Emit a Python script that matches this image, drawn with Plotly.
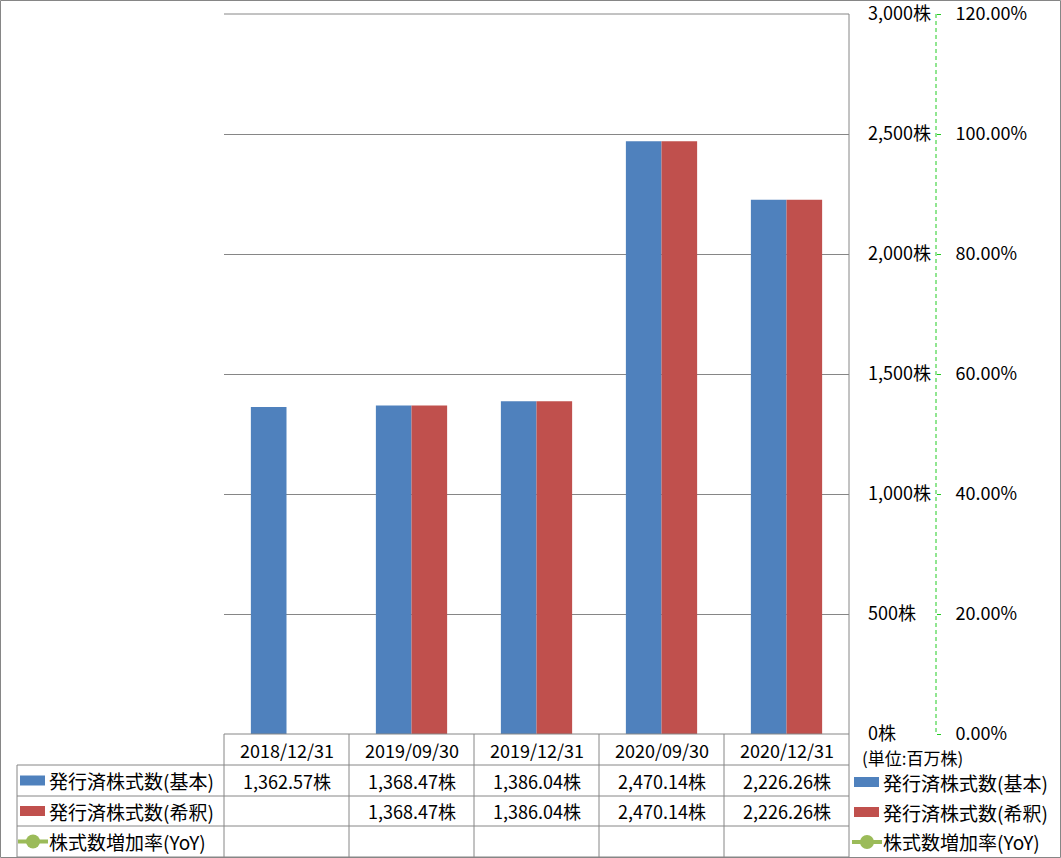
import plotly.graph_objects as go

W, H = 1061, 858

dates = ["2018/12/31", "2019/09/30", "2019/12/31", "2020/09/30", "2020/12/31"]
shares_basic = [1362.57, 1368.47, 1386.04, 2470.14, 2226.26]
shares_diluted = [None, 1368.47, 1386.04, 2470.14, 2226.26]
yoy_rate = [None, None, None, None, None]
share_ticks = [0, 500, 1000, 1500, 2000, 2500, 3000]
rate_ticks = [0, 0.2, 0.4, 0.6, 0.8, 1.0, 1.2]

name_basic = "発行済株式数(基本)"
name_diluted = "発行済株式数(希釈)"
name_yoy = "株式数増加率(YoY)"
unit_label = "(単位:百万株)"

BLUE = "#4F81BD"
RED = "#C0504D"
GREEN = "#9BBB59"
GRID = "#868686"
FONT = "Noto Sans CJK JP"

# plot area in pixels
PL, PR, PT, PB = 224, 849, 14, 734


def px(x):
    return x / W


def py(y):
    return (PB - y) / (PB - PT)


fig = go.Figure()
fig.add_trace(go.Bar(x=dates, y=shares_basic, name=name_basic,
                     marker=dict(color=BLUE, line=dict(width=0))))
fig.add_trace(go.Bar(x=dates, y=shares_diluted, name=name_diluted,
                     marker=dict(color=RED, line=dict(width=0))))
fig.add_trace(
    go.Scatter(
        x=dates, y=yoy_rate, name=name_yoy, yaxis="y2",
        mode="lines+markers", line=dict(color=GREEN, width=3),
        marker=dict(size=10, color=GREEN),
    )
)

shapes = []
line = dict(color=GRID, width=1)


def hline(x0, x1, y):
    shapes.append(dict(type="line", xref="paper", yref="paper",
                       x0=px(x0), x1=px(x1), y0=py(y), y1=py(y), line=line))


def vline(x, y0, y1):
    shapes.append(dict(type="line", xref="paper", yref="paper",
                       x0=px(x), x1=px(x), y0=py(y0), y1=py(y1), line=line))


# outer border
shapes.append(dict(type="rect", xref="paper", yref="paper",
                   x0=px(0.5), x1=px(1060.5), y0=py(0.5), y1=py(857.5), line=line))

# top edge of the plot area
hline(PL, PR, PT)

# data table grid
rows = [734, 765, 796, 826, 857]
hline(PL, PR, rows[0])
for r in rows[1:]:
    hline(17, PR, r)
vline(17, rows[1], rows[-1])
for i in range(len(dates)):
    vline(PL + i * 125, rows[0], rows[-1])
vline(PR, PT, rows[-1])

# secondary axis dashed line
shapes.append(dict(type="line", xref="paper", yref="paper",
                   x0=px(936), x1=px(936), y0=py(PT), y1=py(PB),
                   line=dict(color="#22CC22", width=1, dash="4px,3px")))

annotations = []
tfont = dict(family=FONT, size=18, color="#000000")
lfont = dict(family=FONT, size=19, color="#000000")
row_mid = [(rows[i] + rows[i + 1]) / 2 for i in range(4)]


def label(x, xref, y, text, font, xanchor="center"):
    annotations.append(dict(x=x, xref=xref, y=py(y), yref="paper", text=text,
                            showarrow=False, xanchor=xanchor, yanchor="middle",
                            font=font))


for d in dates:
    label(d, "x", row_mid[0], d, tfont)
for d, v in zip(dates, shares_basic):
    if v is not None:
        label(d, "x", row_mid[1], f"{v:,.2f}株", tfont)
for d, v in zip(dates, shares_diluted):
    if v is not None:
        label(d, "x", row_mid[2], f"{v:,.2f}株", tfont)


def legend_key(x, y, kind, color):
    if kind == "bar":
        shapes.append(dict(type="rect", xref="paper", yref="paper",
                           x0=px(x), x1=px(x + 25), y0=py(y - 5), y1=py(y + 5),
                           fillcolor=color, line=dict(width=0)))
    else:
        shapes.append(dict(type="line", xref="paper", yref="paper",
                           x0=px(x - 2), x1=px(x + 28), y0=py(y), y1=py(y),
                           line=dict(color=color, width=4)))
        shapes.append(dict(type="circle", xref="paper", yref="paper",
                           x0=px(x + 6), x1=px(x + 20), y0=py(y - 7), y1=py(y + 7),
                           fillcolor=color, line=dict(width=0)))


entries = [(name_basic, "bar", BLUE), (name_diluted, "bar", RED), (name_yoy, "line", GREEN)]

# keys in the table's first column
for k, (name, kind, color) in enumerate(entries):
    yc = row_mid[k + 1]
    legend_key(20, yc, kind, color)
    label(px(47), "paper", yc, name, lfont, "left")

# legend on the right
label(px(860), "paper", 757, unit_label, dict(family=FONT, size=17, color="#000000"), "left")
for k, (name, kind, color) in enumerate(entries):
    yc = 782 + k * 30
    legend_key(854, yc, kind, color)
    label(px(881), "paper", yc, name, lfont, "left")

fig.update_layout(
    width=W, height=H,
    margin=dict(l=0, r=0, t=PT, b=H - PB),
    paper_bgcolor="white", plot_bgcolor="white",
    font=dict(family=FONT, size=18, color="#000000"),
    barmode="group", bargap=0.43, bargroupgap=0,
    showlegend=False,
    xaxis=dict(domain=[px(PL), px(PR)], type="category", range=[-0.5, 4.5],
               showticklabels=False, showgrid=False, zeroline=False, showline=False),
    yaxis=dict(range=[0, 3000], tickmode="array", tickvals=share_ticks,
               ticktext=[f"{v:,}株" for v in share_ticks],
               side="right", showgrid=True, gridcolor=GRID, gridwidth=1,
               zeroline=False, showline=False, ticks="", ticklabelstandoff=18,
               ticklabeloverflow="allow", automargin=False),
    yaxis2=dict(range=[0, 1.2], tickmode="array", tickvals=rate_ticks,
                ticktext=[f"{v * 100:.2f}%" for v in rate_ticks], overlaying="y",
                anchor="free", position=px(936), side="right", showgrid=False,
                zeroline=False, showline=False, ticks="outside", ticklen=4,
                tickcolor="#22CC22", ticklabelstandoff=11,
                ticklabeloverflow="allow", automargin=False),
    shapes=shapes,
    annotations=annotations,
)

fig.write_html("out.html", config={"displayModeBar": False},
               post_script="document.body.style.margin='0';")
